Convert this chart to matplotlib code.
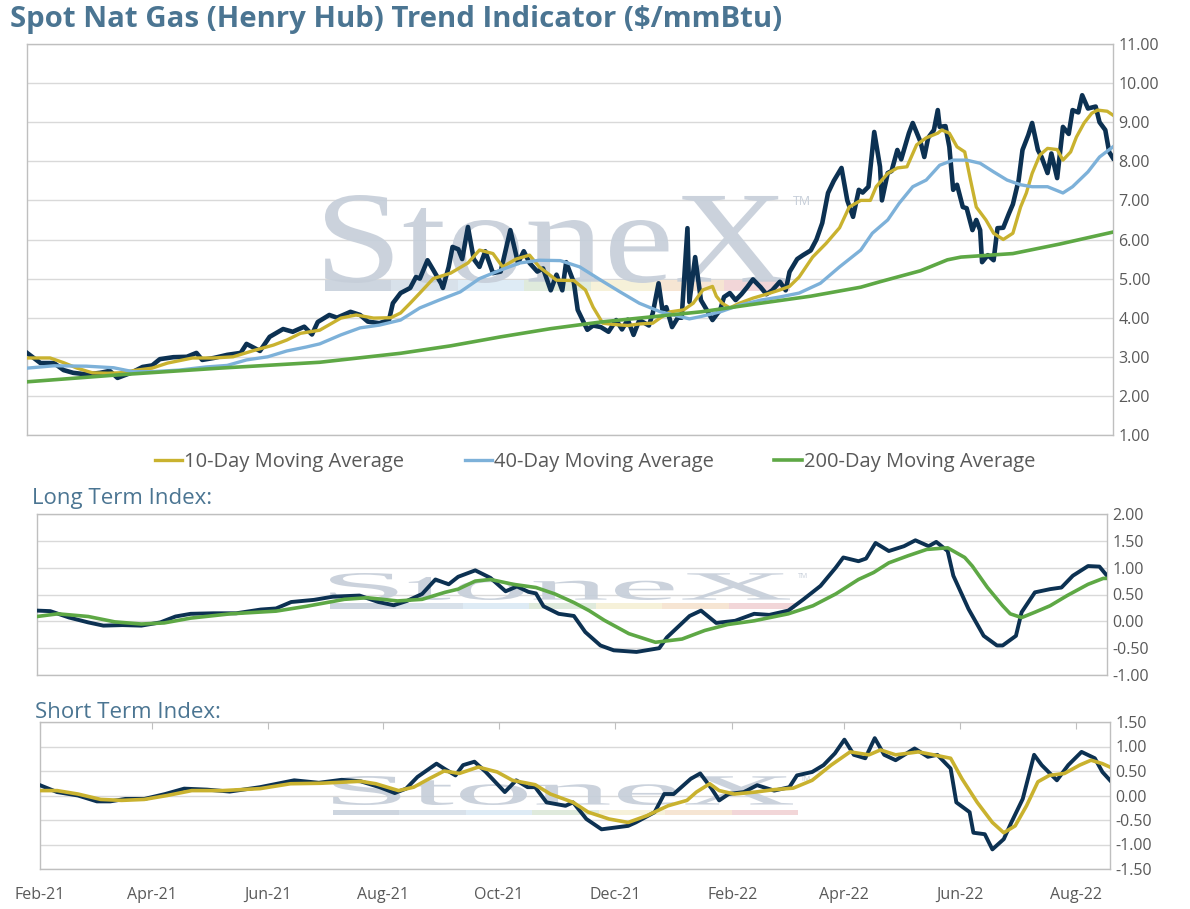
import numpy as np
import pandas as pd
import matplotlib
matplotlib.use("Agg")
import matplotlib.pyplot as plt
import matplotlib.dates as mdates
from matplotlib.textpath import TextPath
from matplotlib.patches import PathPatch, Rectangle
from matplotlib.font_manager import FontProperties
from matplotlib.transforms import Affine2D

plt.rcParams['font.family'] = ['Open Sans', 'DejaVu Sans']

START = pd.Timestamp("2021-02-01")
SPAN_DAYS = 564

# ---- main panel: spot price and moving averages (days since 2021-02-01, $/mmBtu)
spot_day = [0, 7, 14, 19, 24, 31, 38, 43, 47, 54, 60, 65, 69, 76, 83, 88, 91, 97, 104, 111,
            114, 121, 126, 133, 138, 144, 148, 151, 157, 161, 168, 173, 177, 183, 188, 190,
            194, 199, 202, 204, 208, 211, 215, 216, 219, 221, 224, 226, 229, 232, 235, 238,
            242, 246, 251, 255, 258, 261, 265, 268, 272, 275, 278, 280, 284, 286, 291, 294,
            298, 302, 306, 309, 312, 315, 318, 323, 325, 328, 330, 332, 335, 338, 340, 343,
            344, 347, 350, 353, 356, 360, 362, 365, 368, 371, 374, 377, 381, 384, 387, 391,
            394, 396, 400, 403, 407, 410, 413, 416, 419, 423, 426, 429, 432, 434, 437, 440,
            443, 444, 447, 449, 452, 454, 458, 460, 464, 466, 468, 471, 473, 474, 477, 479,
            481, 483, 486, 488, 491, 493, 495, 496, 499, 502, 504, 507, 510, 512, 515, 517,
            520, 522, 525, 527, 530, 532, 535, 538, 541, 543, 546, 548, 551, 555, 557, 560,
            562, 564]
spot_val = [3.10, 2.84, 2.84, 2.66, 2.59, 2.55, 2.59, 2.64, 2.46, 2.59, 2.74, 2.78, 2.94, 2.99,
            3.00, 3.10, 2.92, 2.97, 3.05, 3.10, 3.33, 3.15, 3.51, 3.71, 3.64, 3.77, 3.57, 3.89,
            4.07, 4.00, 4.15, 4.07, 3.90, 3.86, 3.94, 4.37, 4.63, 4.76, 5.04, 5.00, 5.47, 5.22,
            4.88, 4.76, 5.30, 5.81, 5.75, 5.50, 6.32, 5.50, 5.30, 5.70, 5.14, 5.18, 6.24, 5.40,
            5.70, 5.40, 5.18, 5.26, 4.70, 5.10, 4.70, 5.42, 4.90, 4.20, 3.69, 3.80, 3.76, 3.64,
            3.94, 3.70, 3.95, 3.56, 3.94, 3.80, 4.12, 4.88, 4.20, 4.27, 3.76, 4.00, 4.00, 6.29,
            4.40, 5.55, 4.45, 4.20, 3.94, 4.20, 4.53, 4.63, 4.45, 4.60, 4.78, 4.98, 4.78, 4.60,
            4.70, 4.92, 4.70, 5.17, 5.50, 5.60, 5.72, 6.00, 6.42, 7.19, 7.50, 7.83, 7.00, 6.58,
            7.27, 7.20, 7.35, 8.75, 7.86, 7.00, 7.70, 7.75, 8.29, 8.05, 8.72, 8.98, 8.50, 8.11,
            8.60, 8.80, 9.31, 8.88, 8.90, 8.37, 7.27, 7.40, 6.83, 6.80, 6.24, 6.50, 6.24, 5.42,
            5.60, 5.47, 6.29, 6.30, 6.67, 6.90, 7.52, 8.29, 8.67, 8.98, 8.29, 8.10, 7.70, 8.20,
            7.57, 8.88, 8.70, 9.31, 9.25, 9.69, 9.35, 9.40, 9.00, 8.80, 8.24, 8.08]

ma10_day = [0, 12, 19, 26, 34, 42, 48, 57, 65, 73, 79, 86, 97, 107, 117, 128, 135, 142, 152,
            163, 171, 180, 189, 194, 199, 204, 211, 220, 229, 235, 242, 247, 254, 261, 266,
            275, 284, 290, 294, 299, 304, 312, 318, 325, 329, 334, 341, 346, 351, 356, 358,
            361, 365, 370, 377, 384, 391, 396, 401, 408, 415, 422, 427, 433, 438, 441, 447,
            452, 457, 462, 467, 473, 475, 479, 483, 487, 490, 493, 498, 502, 507, 512, 516,
            519, 522, 526, 530, 535, 538, 542, 545, 549, 553, 556, 561, 564]
ma10_val = [2.97, 2.97, 2.85, 2.71, 2.59, 2.58, 2.59, 2.66, 2.71, 2.84, 2.90, 2.97, 2.97, 3.00,
            3.15, 3.30, 3.43, 3.60, 3.68, 3.99, 4.07, 3.99, 4.00, 4.12, 4.37, 4.63, 5.00, 5.14,
            5.40, 5.73, 5.64, 5.30, 5.50, 5.60, 5.30, 4.96, 4.95, 4.71, 4.27, 3.86, 3.83, 3.80,
            3.84, 3.86, 4.00, 4.15, 4.20, 4.37, 4.71, 4.80, 4.55, 4.37, 4.25, 4.37, 4.50, 4.60,
            4.71, 4.80, 5.04, 5.55, 5.90, 6.30, 6.83, 7.00, 7.00, 7.35, 7.69, 7.83, 7.86, 8.42,
            8.60, 8.72, 8.80, 8.72, 8.37, 8.24, 7.52, 6.83, 6.50, 6.16, 6.00, 6.16, 6.83, 7.19,
            7.69, 8.16, 8.33, 8.30, 8.03, 8.24, 8.62, 8.98, 9.23, 9.31, 9.28, 9.18]

ma40_day = [0, 14, 31, 45, 55, 65, 79, 93, 104, 114, 125, 135, 145, 152, 163, 173, 183, 194,
            204, 214, 225, 235, 246, 256, 266, 277, 287, 298, 308, 318, 329, 339, 344, 350,
            360, 370, 381, 391, 401, 412, 422, 433, 439, 447, 453, 460, 467, 474, 481, 488,
            495, 502, 509, 516, 522, 530, 538, 543, 551, 557, 564]
ma40_val = [2.71, 2.77, 2.76, 2.72, 2.62, 2.62, 2.66, 2.74, 2.78, 2.92, 3.00, 3.15, 3.25, 3.33,
            3.56, 3.74, 3.81, 3.94, 4.25, 4.45, 4.66, 5.00, 5.22, 5.40, 5.47, 5.46, 5.30, 4.96,
            4.66, 4.37, 4.15, 4.03, 3.97, 4.03, 4.15, 4.32, 4.45, 4.53, 4.63, 4.88, 5.30, 5.73,
            6.16, 6.50, 6.93, 7.35, 7.52, 7.90, 8.03, 8.03, 7.95, 7.73, 7.52, 7.40, 7.35, 7.35,
            7.19, 7.35, 7.73, 8.11, 8.37]

ma200_day = [0, 48, 100, 152, 194, 220, 246, 272, 298, 324, 350, 381, 407, 433, 443, 464,
             478, 485, 512, 536, 564]
ma200_val = [2.36, 2.54, 2.71, 2.86, 3.09, 3.28, 3.51, 3.72, 3.89, 4.02, 4.15, 4.37, 4.55,
             4.78, 4.92, 5.20, 5.48, 5.55, 5.64, 5.88, 6.19]

# ---- long term index
lt_day = [0, 7, 17, 27, 35, 45, 55, 65, 73, 81, 93, 105, 118, 126, 134, 146, 156, 170, 180,
          188, 195, 203, 210, 217, 222, 231, 239, 247, 253, 259, 263, 267, 275, 283, 289, 297,
          304, 316, 328, 332, 344, 350, 358, 368, 378, 386, 396, 404, 413, 421, 425, 433, 437,
          442, 449, 457, 463, 470, 474, 480, 483, 491, 499, 506, 509, 516, 519, 526, 534, 540,
          546, 554, 560, 564]
lt_val = [0.20, 0.19, 0.07, -0.02, -0.08, -0.07, -0.08, -0.02, 0.09, 0.14, 0.15, 0.15, 0.22,
          0.24, 0.36, 0.40, 0.46, 0.48, 0.36, 0.30, 0.38, 0.51, 0.78, 0.69, 0.83, 0.95, 0.81,
          0.56, 0.65, 0.55, 0.52, 0.28, 0.14, 0.10, -0.20, -0.45, -0.54, -0.57, -0.50, -0.30,
          0.10, 0.20, -0.03, 0.01, 0.14, 0.12, 0.20, 0.41, 0.66, 1.00, 1.19, 1.12, 1.17, 1.46,
          1.31, 1.40, 1.51, 1.40, 1.48, 1.31, 0.85, 0.23, -0.27, -0.45, -0.45, -0.27, 0.17,
          0.54, 0.60, 0.63, 0.85, 1.03, 1.02, 0.85]
lt_sig_day = [0, 11, 27, 41, 55, 67, 81, 102, 126, 142, 162, 174, 190, 203, 215, 222, 231,
              239, 251, 263, 273, 283, 291, 299, 312, 326, 340, 352, 364, 378, 396, 409, 421,
              433, 441, 449, 459, 469, 480, 489, 493, 501, 509, 513, 519, 526, 534, 543, 554,
              562, 564]
lt_sig_val = [0.09, 0.14, 0.09, -0.01, -0.05, -0.03, 0.06, 0.14, 0.19, 0.28, 0.41, 0.44, 0.38,
              0.41, 0.54, 0.60, 0.75, 0.78, 0.69, 0.63, 0.51, 0.35, 0.20, 0.02, -0.23, -0.39,
              -0.33, -0.17, -0.06, 0.01, 0.14, 0.29, 0.51, 0.78, 0.91, 1.09, 1.22, 1.34, 1.37,
              1.19, 1.03, 0.63, 0.29, 0.14, 0.07, 0.17, 0.29, 0.48, 0.69, 0.80, 0.80]

# ---- short term index
st_day = [0, 9, 20, 30, 37, 45, 55, 66, 76, 88, 100, 116, 134, 147, 159, 169, 179, 187, 193,
          199, 209, 213, 219, 223, 229, 235, 245, 251, 257, 261, 267, 277, 281, 288, 296, 310,
          314, 324, 329, 334, 343, 348, 354, 358, 363, 371, 378, 387, 395, 399, 407, 413, 419,
          424, 429, 435, 440, 445, 451, 461, 468, 473, 480, 483, 490, 492, 498, 502, 508, 512,
          518, 524, 528, 536, 542, 549, 556, 560, 564]
st_val = [0.21, 0.07, 0.00, -0.12, -0.12, -0.07, -0.07, 0.03, 0.14, 0.12, 0.08, 0.17, 0.31,
          0.26, 0.32, 0.29, 0.17, 0.05, 0.14, 0.38, 0.65, 0.55, 0.41, 0.62, 0.69, 0.48, 0.07,
          0.31, 0.17, 0.17, -0.14, -0.21, -0.14, -0.48, -0.69, -0.62, -0.55, -0.34, 0.03, 0.03,
          0.34, 0.45, 0.14, -0.10, 0.03, 0.07, 0.21, 0.10, 0.17, 0.41, 0.48, 0.62, 0.86, 1.14,
          0.83, 0.76, 1.17, 0.83, 0.72, 0.96, 0.79, 0.83, 0.55, -0.14, -0.34, -0.76, -0.79,
          -1.10, -0.89, -0.55, -0.07, 0.83, 0.62, 0.31, 0.62, 0.89, 0.76, 0.48, 0.31]
st_sig_day = [0, 9, 20, 32, 43, 55, 67, 80, 96, 116, 132, 148, 169, 177, 189, 197, 205, 213,
              221, 231, 241, 249, 261, 269, 281, 289, 300, 310, 320, 331, 341, 346, 353, 358,
              366, 377, 387, 397, 407, 417, 427, 437, 443, 451, 463, 471, 480, 486, 494, 502,
              508, 514, 520, 526, 532, 540, 548, 554, 560, 564]
st_sig_val = [0.10, 0.10, 0.03, -0.08, -0.10, -0.08, 0.00, 0.10, 0.10, 0.14, 0.24, 0.25, 0.29,
              0.24, 0.10, 0.17, 0.34, 0.50, 0.45, 0.58, 0.48, 0.31, 0.22, 0.03, -0.14, -0.34,
              -0.48, -0.55, -0.41, -0.21, -0.10, 0.07, 0.24, 0.10, 0.03, 0.07, 0.12, 0.15, 0.31,
              0.62, 0.89, 0.83, 0.93, 0.83, 0.89, 0.83, 0.76, 0.34, -0.14, -0.55, -0.76, -0.62,
              -0.21, 0.28, 0.41, 0.45, 0.62, 0.72, 0.65, 0.58]

legend_labels = ["10-Day Moving Average", "40-Day Moving Average", "200-Day Moving Average"]

NAVY = "#0c3152"
GOLD = "#c9b22f"
LBLUE = "#7db1d9"
GREEN = "#5ea845"
TITLE_C = "#4b7592"
TICK_C = "#595959"
GRID_C = "#d9d9d9"
SPINE_C = "#bfbfbf"
WM_C = "#c6ced9"

W, H = 1190, 909


def to_dates(days):
    return START + pd.to_timedelta(days, unit="D")


def px_axes(fig, left, top, right, bottom):
    return fig.add_axes([left / W, (H - bottom) / H, (right - left) / W, (bottom - top) / H])


def style_axes(ax, ticks):
    ax.set_xlim(START, START + pd.Timedelta(days=SPAN_DAYS))
    ax.set_ylim(ticks[0], ticks[-1])
    ax.set_yticks(ticks)
    ax.set_yticklabels([f"{t:.2f}" for t in ticks])
    ax.yaxis.tick_right()
    ax.tick_params(axis="y", length=0, pad=4, labelsize=11.5, labelcolor=TICK_C)
    ax.grid(axis="y", color=GRID_C, lw=1)
    ax.set_axisbelow(True)
    for s in ax.spines.values():
        s.set_color(SPINE_C)
        s.set_linewidth(1)


def watermark(fig, ax, x0, x1, y_top, y_base, band0, band1, tm_size):
    tp = TextPath((0, 0), "StoneX", size=100, prop=FontProperties(family="Liberation Serif"))
    bb = tp.get_extents()
    sx = (x1 - x0) / bb.width / W
    sy = (y_base - y_top) / bb.height / H
    tr = Affine2D().translate(-bb.x0, -bb.y0).scale(sx, sy).translate(x0 / W, (H - y_base) / H)
    ax.add_patch(PathPatch(tp, transform=tr + fig.transFigure, fc=WM_C, ec="none",
                           alpha=0.9, zorder=1.5, clip_on=False))
    ax.text((x1 + 8) / W, (H - y_top) / H, "TM", transform=fig.transFigure, fontsize=tm_size,
            color=WM_C, va="top", ha="left", zorder=1.5)
    band_cols = ["#cdd5df", "#d8e1ea", "#deebf5", "#dfeadc", "#f6f1d9", "#f6e5d3", "#f2d6d8"]
    edges = np.linspace(x0, x1 + 5, len(band_cols) + 1)
    for c, a, b in zip(band_cols, edges[:-1], edges[1:]):
        ax.add_patch(Rectangle((a / W, (H - band1) / H), (b - a) / W, (band1 - band0) / H,
                               transform=fig.transFigure, fc=c, ec="none", zorder=1.4,
                               clip_on=False))


fig = plt.figure(figsize=(W / 100, H / 100), dpi=100)

fig.text(10 / W, 1 - 20 / H, "Spot Nat Gas (Henry Hub) Trend Indicator ($/mmBtu)",
         fontsize=21.2, fontweight="bold", color=TITLE_C, va="center", ha="left")

# main panel
ax1 = px_axes(fig, 27, 44, 1113, 435)
style_axes(ax1, [1, 2, 3, 4, 5, 6, 7, 8, 9, 10, 11])
ax1.set_xticks([])
watermark(fig, ax1, 325, 785, 195, 283, 280, 291, 9)
ax1.plot(to_dates(spot_day), spot_val, color=NAVY, lw=3.3, zorder=3)
l10, = ax1.plot(to_dates(ma10_day), ma10_val, color=GOLD, lw=2.4, zorder=4)
l40, = ax1.plot(to_dates(ma40_day), ma40_val, color=LBLUE, lw=2.4, zorder=4)
l200, = ax1.plot(to_dates(ma200_day), ma200_val, color=GREEN, lw=2.6, zorder=4)

fig.legend([l10, l40, l200], legend_labels, loc="center", bbox_to_anchor=(0.5, 1 - 462 / H),
           ncol=3, frameon=False, fontsize=14.5, handlelength=1.35, handletextpad=0.12,
           columnspacing=3.0, labelcolor=TICK_C)

# long term index
fig.text(32 / W, 1 - 499 / H, "Long Term Index:", fontsize=16, color=TITLE_C,
         va="center", ha="left")
ax2 = px_axes(fig, 37, 514, 1107, 675)
style_axes(ax2, [-1.0, -0.5, 0.0, 0.5, 1.0, 1.5, 2.0])
ax2.set_xticks([])
watermark(fig, ax2, 330, 790, 573, 600, 603, 609, 5)
ax2.plot(to_dates(lt_day), lt_val, color=NAVY, lw=2.8, zorder=3)
ax2.plot(to_dates(lt_sig_day), lt_sig_val, color=GREEN, lw=2.6, zorder=4)

# short term index
fig.text(35 / W, 1 - 712 / H, "Short Term Index:", fontsize=16, color=TITLE_C,
         va="center", ha="left")
ax3 = px_axes(fig, 40, 722, 1110, 869)
style_axes(ax3, [-1.5, -1.0, -0.5, 0.0, 0.5, 1.0, 1.5])
watermark(fig, ax3, 333, 793, 776, 805, 810, 815, 5)
ax3.plot(to_dates(st_day), st_val, color=NAVY, lw=2.8, zorder=3)
ax3.plot(to_dates(st_sig_day), st_sig_val, color=GOLD, lw=2.6, zorder=4)
ax3.xaxis.set_major_locator(mdates.MonthLocator(bymonth=[2, 4, 6, 8, 10, 12]))
ax3.xaxis.set_major_formatter(mdates.DateFormatter("%b-%y"))
ax3.tick_params(axis="x", top=True, bottom=False, direction="in", length=5, color=SPINE_C,
                labelsize=11.5, labelcolor=TICK_C, pad=13)

fig.savefig("out.png", dpi=100)
